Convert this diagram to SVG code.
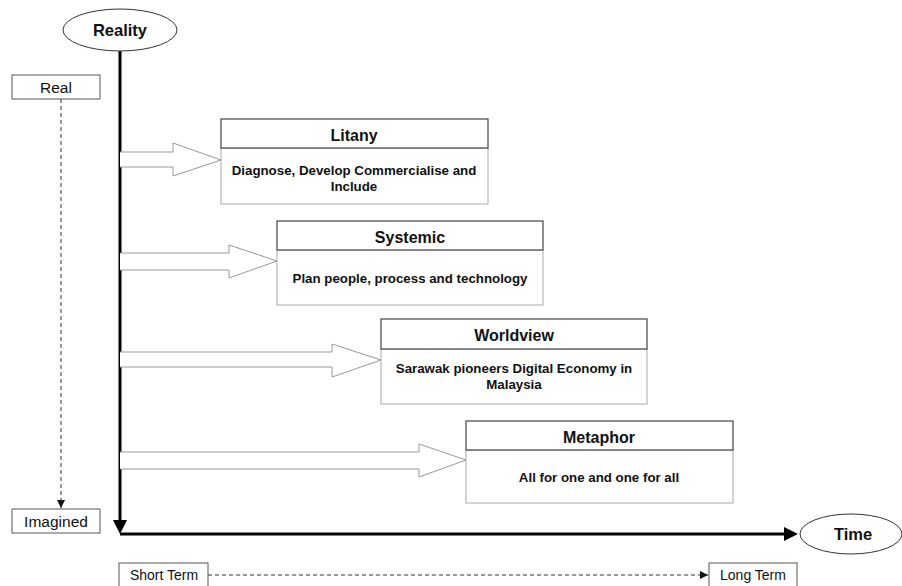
<svg xmlns="http://www.w3.org/2000/svg" width="902" height="586" viewBox="0 0 902 586">
<style>
text{font-family:"Liberation Sans",Arial,sans-serif;fill:#111;text-anchor:middle;dominant-baseline:central}
.lbl{font-size:14px}
.lbl2{font-size:15.5px}
.big{font-size:16.5px;font-weight:bold}
.ttl{font-size:16px;font-weight:bold}
.body{font-size:13.3px;font-weight:bold}
.lbox{fill:#fff;stroke:#555;stroke-width:1}
.hdr{fill:#fff;stroke:#444;stroke-width:1.2}
.bdy{fill:#fff;stroke:#aaa;stroke-width:1}
.blk{fill:#fff;stroke:#999;stroke-width:1}
.dash{stroke:#333;stroke-width:1;stroke-dasharray:4,3;fill:none}
.axis{stroke:#000;stroke-width:3;fill:none}
</style>
<defs>
<marker id="sm" viewBox="0 0 10 10" refX="10" refY="5" markerWidth="8" markerHeight="8" markerUnits="userSpaceOnUse" orient="auto">
<path d="M0,0 L10,5 L0,10 z" fill="#111"/>
</marker>
</defs>
<rect width="902" height="586" fill="#fff"/>

<g id="connectors">
<line class="axis" x1="120" y1="51" x2="120" y2="522"/>
<path d="M113,520 L127,520 L120,534 z" fill="#000"/>
<line class="axis" x1="120" y1="534" x2="786" y2="534"/>
<path d="M784,527 L784,541 L798,534 z" fill="#000"/>
<line class="dash" x1="61" y1="99" x2="61" y2="508" marker-end="url(#sm)"/>
<line class="dash" x1="208" y1="575" x2="708" y2="575" marker-end="url(#sm)"/>
<path class="blk" d="M120,152 L173,152 L173,143 L221,160 L173,176 L173,167 L120,167"/>
<path class="blk" d="M120,253 L229,253 L229,245 L277,261 L229,278 L229,270 L120,270"/>
<path class="blk" d="M120,352 L332,352 L332,344 L381,360 L332,377 L332,367 L120,367"/>
<path class="blk" d="M120,452 L419,452 L419,444 L466,460 L419,477 L419,469 L120,469"/>
</g>

<g id="reality">
<ellipse cx="120" cy="30" rx="57" ry="21" fill="#fff" stroke="#333" stroke-width="1"/>
<text class="big" x="120" y="30">Reality</text>
</g>
<g id="time">
<ellipse cx="851" cy="534" rx="51" ry="20" fill="#fff" stroke="#333" stroke-width="1"/>
<text class="big" x="853" y="534">Time</text>
</g>
<g id="real">
<rect class="lbox" x="12" y="75" width="88" height="24"/>
<text class="lbl2" x="56" y="87">Real</text>
</g>
<g id="imagined">
<rect class="lbox" x="12" y="509" width="88" height="24"/>
<text class="lbl2" x="56" y="521">Imagined</text>
</g>
<g id="short-term">
<rect class="lbox" x="119" y="563" width="89" height="24"/>
<text class="lbl" x="164" y="575">Short Term</text>
</g>
<g id="long-term">
<rect class="lbox" x="709" y="563" width="88" height="24"/>
<text class="lbl" x="753" y="575">Long Term</text>
</g>

<g id="litany">
<rect class="bdy" x="221" y="148" width="267" height="56"/>
<rect class="hdr" x="221" y="119" width="267" height="29"/>
<text class="ttl" x="354" y="135">Litany</text>
<text class="body" x="354" y="170">Diagnose, Develop Commercialise and</text>
<text class="body" x="354" y="186">Include</text>
</g>
<g id="systemic">
<rect class="bdy" x="277" y="250" width="266" height="55"/>
<rect class="hdr" x="277" y="221" width="266" height="29"/>
<text class="ttl" x="410" y="237">Systemic</text>
<text class="body" x="410" y="278">Plan people, process and technology</text>
</g>
<g id="worldview">
<rect class="bdy" x="381" y="349" width="266" height="55"/>
<rect class="hdr" x="381" y="319" width="266" height="30"/>
<text class="ttl" x="514" y="335">Worldview</text>
<text class="body" x="514" y="368">Sarawak pioneers Digital Economy in</text>
<text class="body" x="514" y="384">Malaysia</text>
</g>
<g id="metaphor">
<rect class="bdy" x="466" y="450" width="267" height="53"/>
<rect class="hdr" x="466" y="421" width="267" height="29"/>
<text class="ttl" x="599" y="437">Metaphor</text>
<text class="body" x="599" y="477">All for one and one for all</text>
</g>
</svg>
